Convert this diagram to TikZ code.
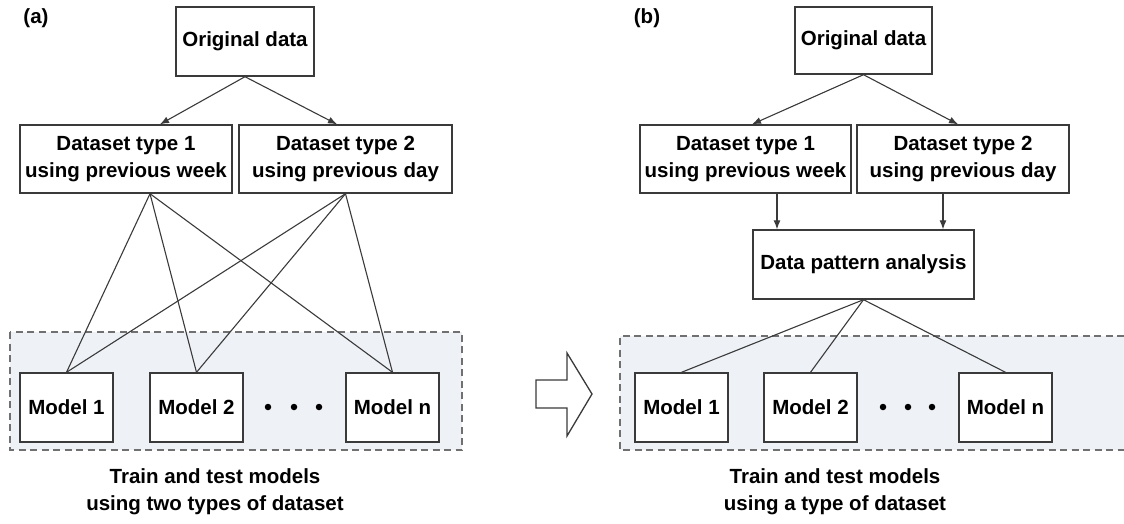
\documentclass[tikz,border=0pt]{standalone}
\usepackage{fontspec}
\setmainfont{Liberation Sans}
\usetikzlibrary{arrows.meta,calc}
\definecolor{boxline}{HTML}{3A3A3A}
\definecolor{panelfill}{HTML}{EEF1F6}
\definecolor{dashgray}{HTML}{707070}
\tikzset{
  txt/.style={font=\fontsize{20.5}{27}\selectfont\bfseries, align=center, text=black},
  databox/.style={txt, draw=boxline, line width=1.4pt, fill=white, inner sep=0pt, minimum height=68pt},
  modelbox/.style={databox, minimum width=93pt, minimum height=69pt},
  conn/.style={draw=boxline, line width=1.1pt},
  arr/.style={conn, -{Latex[length=9pt,width=7pt]}},
  panel/.style={fill=panelfill, draw=dashgray, line width=1.2pt, dash pattern=on 7pt off 4.5pt},
  dotmark/.style={circle, fill=black, inner sep=0pt, minimum size=6.5pt},
  biglabel/.style={font=\fontsize{20.5}{24}\selectfont\bfseries}
}
\begin{document}
\begin{tikzpicture}[x=1pt,y=-1pt]
\useasboundingbox (0,0) rectangle (1124,523);
% ---------------- panel (a) ----------------
\node[biglabel] (la) at (36,18) {(a)};
\draw[panel] (10,332) rectangle (462,450);
\node[databox, minimum width=138pt, minimum height=69pt] (oa) at (245,41.5) {Original data};
\node[databox, minimum width=212pt] (d1a) at (126,159) {Dataset type 1\\using previous week};
\node[databox, minimum width=213pt] (d2a) at (345.5,159) {Dataset type 2\\using previous day};
\node[modelbox] (m1a) at (66.5,407.5) {Model 1};
\node[modelbox] (m2a) at (196.5,407.5) {Model 2};
\node[modelbox] (mna) at (392.5,407.5) {Model n};
\node[dotmark] (a1) at (268,407) {};
\node[dotmark] (a2) at (294,407) {};
\node[dotmark] (a3) at (319,407) {};
\draw[arr] (oa.south) -- ([xshift=34pt]d1a.north);
\draw[arr] (oa.south) -- ([xshift=-8.5pt]d2a.north);
\coordinate (s1a) at ([xshift=24pt]d1a.south);
\coordinate (s2a) at (d2a.south);
\draw[conn] (s1a) -- (m1a.north);
\draw[conn] (s1a) -- (m2a.north);
\draw[conn] (s1a) -- (mna.north);
\draw[conn] (s2a) -- (m1a.north);
\draw[conn] (s2a) -- (m2a.north);
\draw[conn] (s2a) -- (mna.north);
\node[txt] (capa) at (215,491.5) {Train and test models\\using two types of dataset};
% ---------------- big arrow ----------------
\draw[draw=boxline, line width=1.3pt, fill=white, line join=miter]
  (536,380) -- (567,380) -- (567,353) -- (592,394) -- (567,436) -- (567,408) -- (536,408) -- cycle;
% ---------------- panel (b) ----------------
\node[biglabel] (lb) at (647,18) {(b)};
\fill[panelfill] (620,336) rectangle (1124,450);
\draw[panel, fill=none] (1124,336) -- (620,336) -- (620,450) -- (1124,450);
\node[databox, minimum width=137pt, minimum height=67pt] (ob) at (863.5,40.5) {Original data};
\node[databox, minimum width=211pt] (d1b) at (745.5,159) {Dataset type 1\\using previous week};
\node[databox, minimum width=212pt] (d2b) at (963,159) {Dataset type 2\\using previous day};
\node[databox, minimum width=221pt, minimum height=69pt] (dpa) at (863.5,264.5) {Data pattern analysis};
\node[modelbox] (m1b) at (681.5,407.5) {Model 1};
\node[modelbox] (m2b) at (810.5,407.5) {Model 2};
\node[modelbox] (mnb) at (1005.5,407.5) {Model n};
\node[dotmark] (b1) at (883,407) {};
\node[dotmark] (b2) at (908,407) {};
\node[dotmark] (b3) at (932,407) {};
\draw[arr] (ob.south) -- ([xshift=6.5pt]d1b.north);
\draw[arr] (ob.south) -- ([xshift=-5pt]d2b.north);
\coordinate (s1b) at ([xshift=31.5pt]d1b.south);
\coordinate (s2b) at ([xshift=-20pt]d2b.south);
\draw[arr] (s1b) -- (s1b |- dpa.north);
\draw[arr] (s2b) -- (s2b |- dpa.north);
\draw[conn] (dpa.south) -- (m1b.north);
\draw[conn] (dpa.south) -- (m2b.north);
\draw[conn] (dpa.south) -- (mnb.north);
\node[txt] (capb) at (835,491.5) {Train and test models\\using a type of dataset};
\end{tikzpicture}
\end{document}
